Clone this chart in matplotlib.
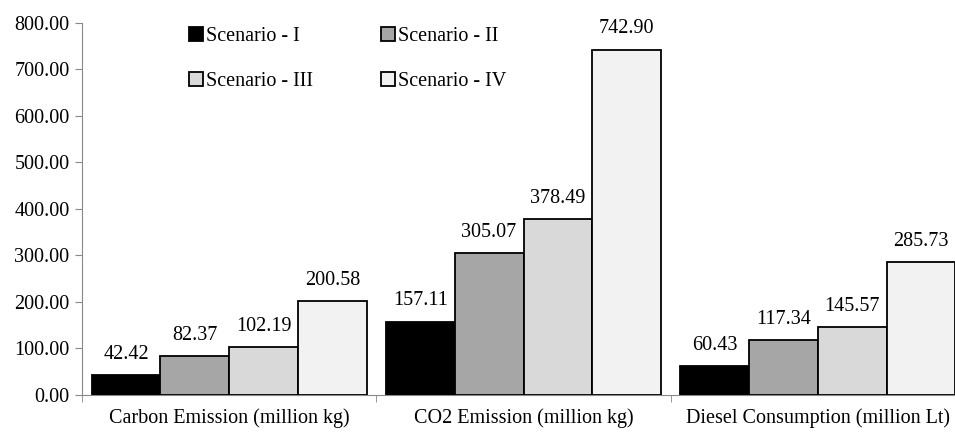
import matplotlib.pyplot as plt
import numpy as np

plt.rcParams['font.family'] = ['Liberation Serif', 'DejaVu Serif']

categories = ["Carbon Emission (million kg)", "CO2 Emission (million kg)",
              "Diesel Consumption (million Lt)"]
scenarios = ["Scenario - I", "Scenario - II", "Scenario - III", "Scenario - IV"]
values = [
    [42.42, 157.11, 60.43],
    [82.37, 305.07, 117.34],
    [102.19, 378.49, 145.57],
    [200.58, 742.90, 285.73],
]
colors = ["#000000", "#a6a6a6", "#d9d9d9", "#f2f2f2"]
fs = 14.5

fig = plt.figure(figsize=(9.55, 4.33), dpi=100)
ax = fig.add_axes([82 / 955, 38.5 / 433, 883 / 955, 371.5 / 433])

x = np.arange(len(categories))
w = 0.2336
bars = []
for i, (s, v) in enumerate(zip(scenarios, values)):
    b = ax.bar(x + (i - 1.5) * w, v, w, color=colors[i], edgecolor="black",
               linewidth=1.3, label=s, zorder=3)
    bars.append(b)
    for xi, vi in zip(x + (i - 1.5) * w, v):
        ax.text(xi, vi + 24, f"{vi:.2f}", ha="center", va="bottom", fontsize=fs)

ax.set_xlim(-0.5, 2.5)
ax.set_ylim(0, 800)
ax.set_yticks(np.arange(0, 801, 100))
ax.set_yticklabels([f"{t:.2f}" for t in np.arange(0, 801, 100)], fontsize=fs)
ax.set_xticks(x)
ax.set_xticklabels(categories, fontsize=fs)
ax.set_xticks([-0.5, 0.5, 1.5, 2.5], minor=True)
ax.tick_params(axis="x", which="major", length=0, pad=10)
ax.tick_params(axis="x", which="minor", length=5, color="#888888")
ax.tick_params(axis="y", length=5, color="#888888", pad=4)
for sp in ["top", "right"]:
    ax.spines[sp].set_visible(False)
for sp in ["left", "bottom"]:
    ax.spines[sp].set_color("#888888")

order = [0, 2, 1, 3]
leg = fig.legend([bars[i] for i in order], [scenarios[i] for i in order],
                 ncol=2, frameon=False, fontsize=fs, loc="upper left",
                 bbox_to_anchor=(179 / 955, 1 - 17 / 433),
                 handlelength=0.7, handleheight=0.7, handletextpad=0.15,
                 columnspacing=3.35, labelspacing=1.3, borderpad=0)

fig.savefig("out.png", dpi=100)
